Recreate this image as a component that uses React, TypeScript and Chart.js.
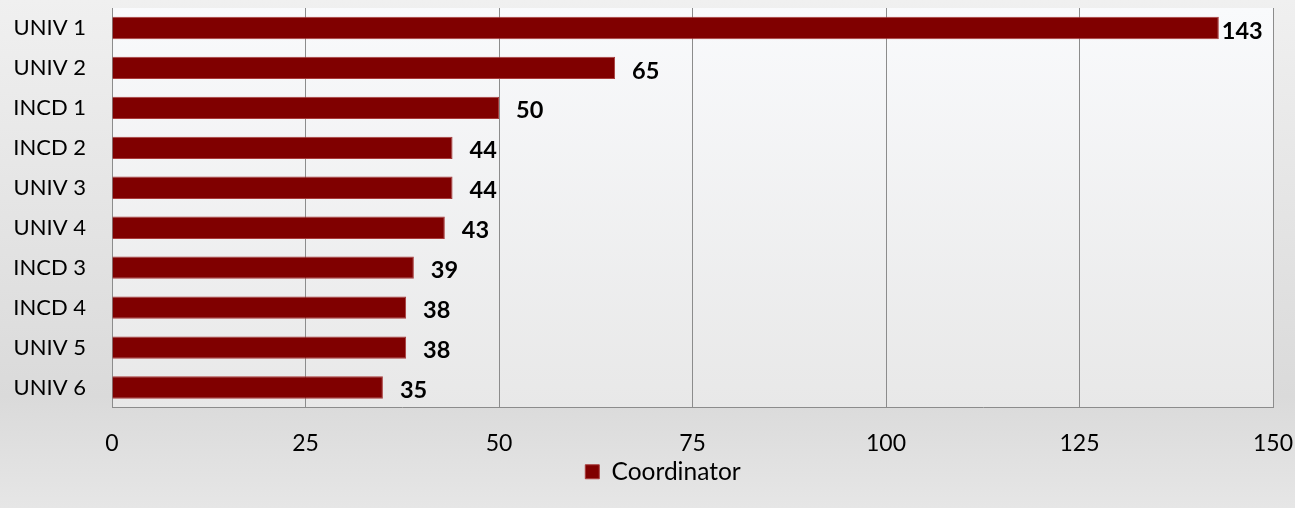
import React, { useEffect, useRef } from "react";
import { Chart, registerables } from "chart.js";

Chart.register(...registerables);

const categories = ["UNIV 1", "UNIV 2", "INCD 1", "INCD 2", "UNIV 3", "UNIV 4", "INCD 3", "INCD 4", "UNIV 5", "UNIV 6"];
const coordinatorValues = [143, 65, 50, 44, 44, 43, 39, 38, 38, 35];
const seriesName = "Coordinator";
const xMin = 0;
const xMax = 150;
const xStep = 25;

const FONT = "Lato, 'Noto Sans', sans-serif";

const plotBackground = {
  id: "plotBackground",
  beforeDraw(chart: any) {
    const { ctx, chartArea } = chart;
    if (!chartArea) return;
    const g = ctx.createLinearGradient(0, chartArea.top, 0, chartArea.bottom);
    g.addColorStop(0, "#f9fafc");
    g.addColorStop(1, "#e8e8e8");
    ctx.save();
    ctx.fillStyle = g;
    ctx.fillRect(chartArea.left, chartArea.top, chartArea.right - chartArea.left, chartArea.bottom - chartArea.top);
    ctx.restore();
  },
};

// Excel centres the legend over a slightly narrower region than the full canvas.
const legendShift = {
  id: "legendShift",
  afterLayout(chart: any) {
    if (chart.legend) {
      chart.legend.left = 53;
    }
  },
};

const valueLabels = {
  id: "valueLabels",
  afterDatasetsDraw(chart: any) {
    const { ctx, chartArea } = chart;
    const meta = chart.getDatasetMeta(0);
    const data = chart.data.datasets[0].data as number[];
    ctx.save();
    ctx.font = `bold 23.5px ${FONT}`;
    ctx.fillStyle = "#000000";
    ctx.textBaseline = "middle";
    ctx.textAlign = "left";
    meta.data.forEach((bar: any, i: number) => {
      const txt = String(data[i]);
      const w = ctx.measureText(txt).width;
      let x = bar.x + 17;
      if (x + w > chartArea.right - 8) x = bar.x + 3;
      ctx.fillText(txt, x, bar.y + 3);
    });
    ctx.restore();
  },
};

export default function App() {
  const ref = useRef<HTMLCanvasElement | null>(null);

  useEffect(() => {
    document.body.style.margin = "0";
    if (!ref.current) return;
    const chart = new Chart(ref.current, {
      type: "bar",
      data: {
        labels: categories,
        datasets: [
          {
            label: seriesName,
            data: coordinatorValues,
            backgroundColor: "#800000",
            borderColor: "#a83c3c",
            borderWidth: 1,
            categoryPercentage: 1,
            barPercentage: 0.56,
          },
        ],
      },
      options: {
        indexAxis: "y",
        animation: false,
        responsive: false,
        maintainAspectRatio: false,
        layout: { padding: { top: 8, right: 22, bottom: 14, left: 0 } },
        scales: {
          x: {
            min: xMin,
            max: xMax,
            afterFit: (s: any) => {
              s.paddingLeft = 0;
              s.paddingRight = 0;
              s.height = 46;
            },
            ticks: { stepSize: xStep, color: "#000000", font: { family: FONT, size: 23 }, padding: 22 },
            grid: { color: "#8c8c8c", lineWidth: 1, drawTicks: false },
            border: { color: "#8c8c8c", width: 1 },
          },
          y: {
            afterFit: (s: any) => {
              s.width = 112;
              s.paddingTop = 0;
              s.paddingBottom = 0;
            },
            ticks: { color: "#000000", font: { family: FONT, size: 22 }, padding: 26 },
            grid: { display: false, drawTicks: false },
            border: { color: "#8c8c8c", width: 1 },
          },
        },
        plugins: {
          legend: {
            position: "bottom",
            labels: {
              boxWidth: 14,
              boxHeight: 14,
              color: "#000000",
              padding: 6,
              font: { family: FONT, size: 24.5 },
            },
          },
          tooltip: { enabled: false },
        },
      },
      plugins: [plotBackground, legendShift, valueLabels],
    });
    return () => chart.destroy();
  }, []);

  return (
    <div
      style={{
        position: "fixed",
        left: 0,
        top: 0,
        width: 1295,
        height: 508,
        background: "linear-gradient(to bottom, #f0f0f0 0%, #dadada 78%, #e6e6e6 100%)",
      }}
    >
      <canvas ref={ref} width={1295} height={508} style={{ display: "block" }} />
    </div>
  );
}
